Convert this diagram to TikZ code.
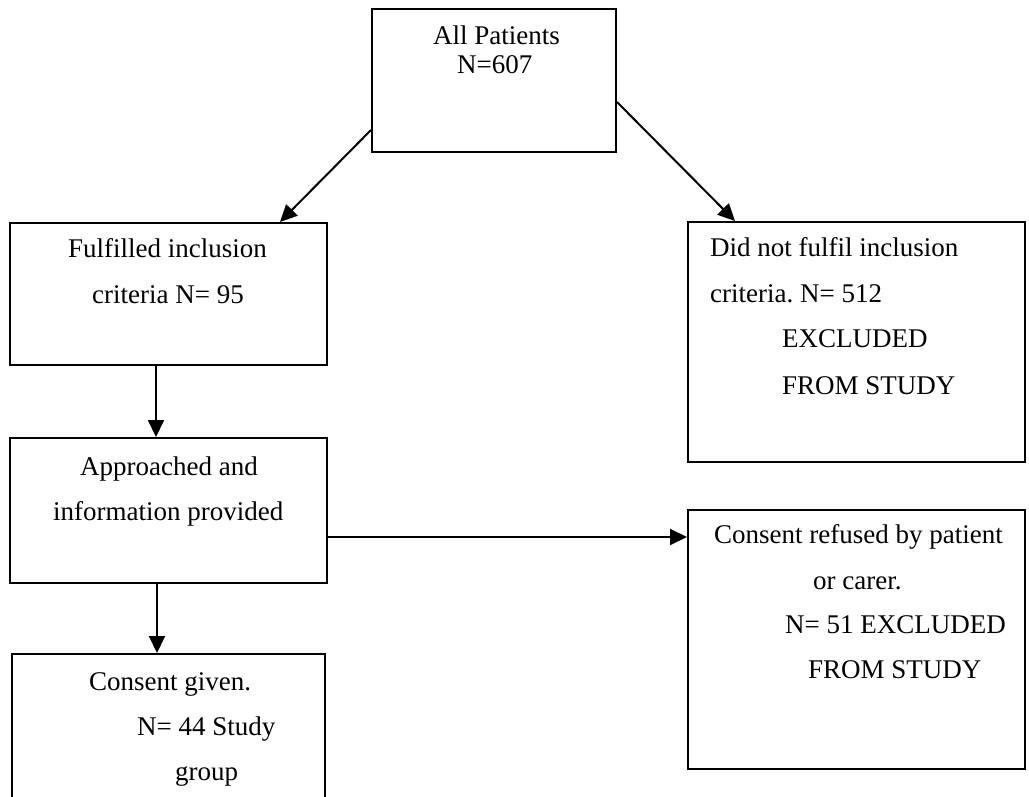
\documentclass[tikz,border=0pt]{standalone}
\usepackage{fontspec}
\setmainfont{Liberation Serif}
\usetikzlibrary{arrows.meta}
\frenchspacing
\begin{document}
\begin{tikzpicture}[x=1pt,y=-1pt,
  box/.style={draw=black,line width=2pt,rectangle,inner sep=0pt},
  txt/.style={anchor=base west,inner sep=0pt,font=\fontsize{27}{30}\selectfont},
  arr/.style={line width=2pt,-{Triangle[length=17pt,width=16pt]}}]
\clip (0,0) rectangle (1029,797);
\fill[white] (0,0) rectangle (1029,797);
% boxes
\node[box,minimum width=244pt,minimum height=143pt] (top) at (494,80.5) {};
\node[box,minimum width=317pt,minimum height=142pt] (A) at (168.5,294) {};
\node[box,minimum width=317pt,minimum height=145pt] (B) at (168.5,510.5) {};
\node[box,minimum width=313pt,minimum height=166pt] (C) at (168.5,737) {};
\node[box,minimum width=337pt,minimum height=240pt] (D) at (856.5,342) {};
\node[box,minimum width=337pt,minimum height=259pt] (E) at (856.5,639.5) {};
% texts
\node[txt] (t1) at (433,45) {All Patients};
\node[txt] (t2) at (457,74) {N=607};
\node[txt] (a1) at (68,257) {Fulfilled inclusion};
\node[txt] (a2) at (92,303) {criteria N= 95};
\node[txt] (b1) at (80,475) {Approached and};
\node[txt] (b2) at (53,520) {information provided};
\node[txt] (c1) at (89,690) {Consent given.};
\node[txt] (c2) at (137,735) {N= 44 Study};
\node[txt] (c3) at (175,780) {group};
\node[txt] (d1) at (710,256) {Did not fulfil inclusion};
\node[txt] (d2) at (710,302) {criteria. N= 512};
\node[txt] (d3) at (782,347) {EXCLUDED};
\node[txt] (d4) at (782,394) {FROM STUDY};
\node[txt] (e1) at (714,543) {Consent refused by patient};
\node[txt] (e2) at (813,589) {or carer.};
\node[txt] (e3) at (785,633) {N= 51 EXCLUDED};
\node[txt] (e4) at (808,678) {FROM STUDY};
% connectors
\draw[arr] ([yshift=23pt]top.south west) -- ([xshift=111.5pt]A.north);
\draw[arr] ([yshift=-94pt]top.north east) -- ([xshift=-121.5pt]D.north);
\draw[arr] ([xshift=-12.5pt]A.south) -- ([xshift=-12.5pt]A.south |- B.north);
\draw[arr] ([xshift=-11.5pt]B.south) -- ([xshift=-11.5pt]B.south |- C.north);
\draw[arr] ([yshift=-26.5pt]B.east) -- ([yshift=-26.5pt]B.east -| E.west);
\end{tikzpicture}
\end{document}
